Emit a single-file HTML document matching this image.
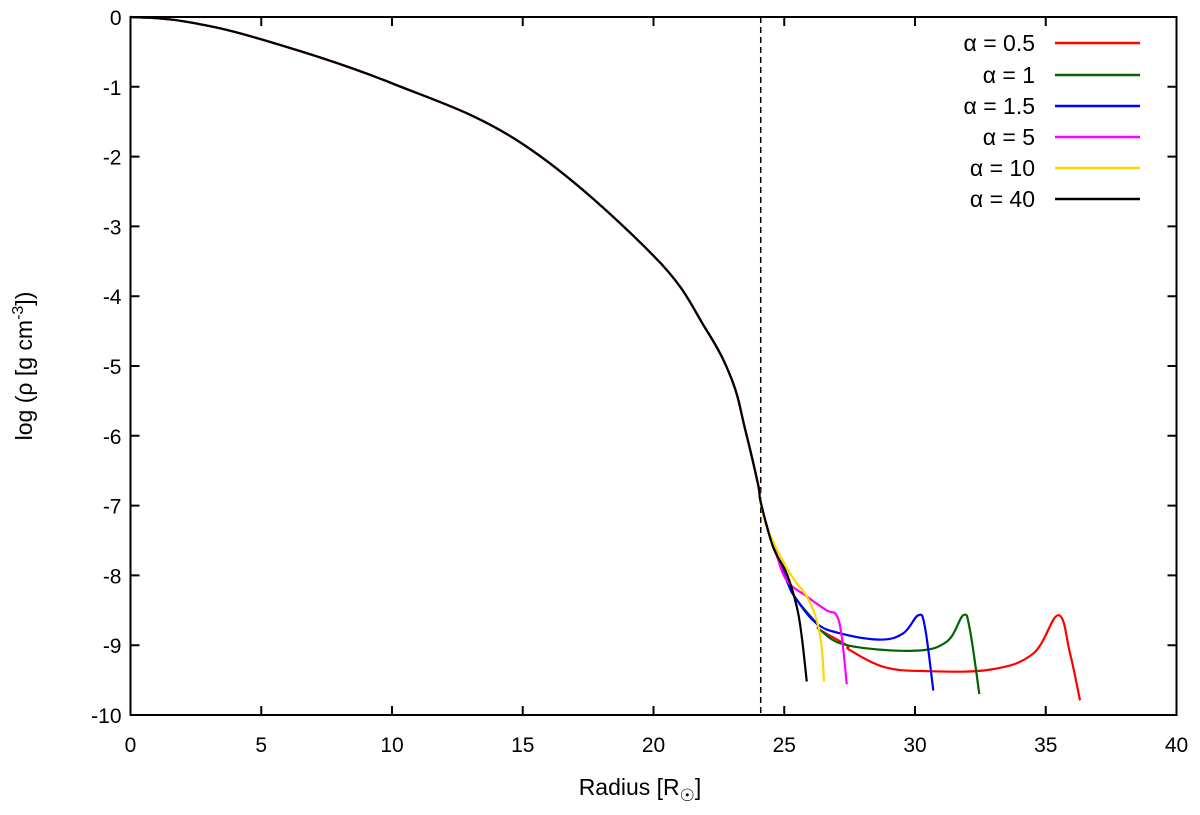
<!DOCTYPE html>
<html><head><meta charset="utf-8"><style>
body{margin:0;background:#fff;}
svg{display:block;font-family:"Liberation Sans",sans-serif;}
</style></head><body>
<svg id="chart" width="1200" height="815"></svg>
<script>
const xTicks=[0,5,10,15,20,25,30,35,40];
const yTicks=[0,-1,-2,-3,-4,-5,-6,-7,-8,-9,-10];
const seriesNames=["α = 0.5","α = 1","α = 1.5","α = 5","α = 10","α = 40"];
const seriesColors=["#ff0000","#006400","#0000ff","#ff00ff","#ffd700","#000000"];
const mainR=[0,2,5,10,15,20,22,23,23.5,24,24.1];
const mainV=[0,-0.06,-0.32,-0.95,-1.82,-3.42,-4.47,-5.2,-5.9,-6.7,-6.95];
const tailR0=[24.38,25.09,25.48,26.24,26.37,27.39,27.51,28.79,30.32,32.87,34.52,35.48,35.93,36.31];
const tailV0=[-7.35,-8.07,-8.35,-8.69,-8.78,-9.0,-9.07,-9.31,-9.37,-9.35,-9.12,-8.57,-9.12,-9.79];
const tailR1=[24.38,25.09,25.48,26.24,26.37,27.39,29.93,31.21,31.85,32.1,32.46];
const tailV1=[-7.35,-8.07,-8.35,-8.69,-8.78,-9.0,-9.08,-8.95,-8.57,-8.78,-9.7];
const tailR2=[24.38,25.09,25.48,26.24,27.13,28.66,29.55,30.13,30.38,30.7];
const tailV2=[-7.35,-8.07,-8.35,-8.69,-8.83,-8.92,-8.83,-8.57,-8.74,-9.65];
const tailR3=[24.38,24.65,25.09,25.86,26.62,27.0,27.2,27.39];
const tailV3=[-7.35,-7.64,-8.07,-8.3,-8.5,-8.57,-8.88,-9.56];
const tailR4=[24.38,25.22,25.86,26.24,26.43,26.52];
const tailV4=[-7.35,-7.97,-8.3,-8.64,-9.02,-9.52];
const tailR5=[24.57,25.09,25.48,25.67,25.86];
const tailV5=[-7.59,-7.97,-8.45,-8.88,-9.52];
const tailsR=[tailR0,tailR1,tailR2,tailR3,tailR4,tailR5];
const tailsV=[tailV0,tailV1,tailV2,tailV3,tailV4,tailV5];
const surfaceR=24.1;

const L=130.5,R=1176.5,T=17,B=715;
const X=r=>L+(r-0)/(40-0)*(R-L);
const Y=v=>T+(0-v)/(0-(-10))*(B-T);
const NS="http://www.w3.org/2000/svg";
const svg=document.getElementById("chart");
function mk(t,a,p){const e=document.createElementNS(NS,t);for(const k in a)e.setAttribute(k,a[k]);(p||svg).appendChild(e);return e;}
function smooth(pts){let d="M"+pts[0][0]+","+pts[0][1];for(let i=0;i<pts.length-1;i++){const p0=pts[Math.max(0,i-1)],p1=pts[i],p2=pts[i+1],p3=pts[Math.min(pts.length-1,i+2)];const t=0.18;d+=" C"+(p1[0]+(p2[0]-p0[0])*t)+","+(p1[1]+(p2[1]-p0[1])*t)+" "+(p2[0]-(p3[0]-p1[0])*t)+","+(p2[1]-(p3[1]-p1[1])*t)+" "+p2[0]+","+p2[1];}return d;}

xTicks.forEach(t=>{
 const tk=mk("path",{d:`M${X(t)},${B}v-9M${X(t)},${T}v9`,stroke:"#000","stroke-width":2});
 
 
 const lb=mk("text",{x:X(t),y:B+37,"text-anchor":"middle","font-size":21});lb.textContent=t;
 
 
});
yTicks.forEach(t=>{
 const tk=mk("path",{d:`M${L},${Y(t)}h9M${R},${Y(t)}h-9`,stroke:"#000","stroke-width":2});
 
 
 const lb=mk("text",{x:L-9,y:Y(t)+8,"text-anchor":"end","font-size":21});lb.textContent=t;
 
 
});
const sl=mk("line",{x1:X(surfaceR),x2:X(surfaceR),y1:T,y2:B,stroke:"#000","stroke-width":1.5,"stroke-dasharray":"6,4"});


for(let s=0;s<6;s++){
 const pts=mainR.map((r,i)=>[X(r),Y(mainV[i])]).concat(tailsR[s].map((r,i)=>[X(r),Y(tailsV[s][i])]));
 const p=mk("path",{d:smooth(pts),fill:"none",stroke:seriesColors[s],"stroke-width":2.2,"stroke-linejoin":"round"});
 
 
}
const fr=mk("rect",{x:L,y:T,width:R-L,height:B-T,fill:"none",stroke:"#000","stroke-width":2});


const lg=mk("g",{});


const rowsY=[43,75,106,137,168,199];
seriesNames.forEach((n,i)=>{
 const t=mk("text",{x:1035,y:rowsY[i]+8,"text-anchor":"end","font-size":23},lg);t.textContent=n;
 
 
 const l=mk("line",{x1:1055,x2:1140,y1:rowsY[i],y2:rowsY[i],stroke:seriesColors[i],"stroke-width":2.5},lg);
 
 
});
const xt=mk("text",{x:640,y:795,"text-anchor":"middle","font-size":23});
xt.innerHTML='Radius [R<tspan font-size="17" dy="6">☉</tspan><tspan dy="-6">]</tspan>';


const yt=mk("text",{transform:"translate(32,366) rotate(-90)","text-anchor":"middle","font-size":23});
yt.innerHTML='log (ρ [g cm<tspan font-size="16" dy="-9">-3</tspan><tspan dy="9">])</tspan>';


</script>
</body></html>
